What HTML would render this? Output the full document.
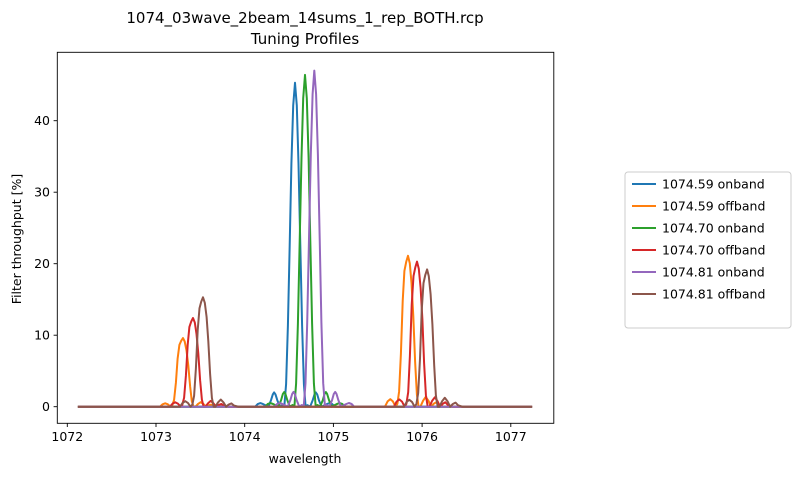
<!DOCTYPE html>
<html><head><meta charset="utf-8"><style>
body{margin:0;background:#fff;font-family:"Liberation Sans","DejaVu Sans",sans-serif}
svg text{font-family:"DejaVu Sans","Liberation Sans",sans-serif;font-size:12.5px;fill:#000}
svg text.title{font-size:15px}
</style></head><body>
<svg id="chart" width="799" height="476" viewBox="0 0 799 476" xmlns="http://www.w3.org/2000/svg">
<rect width="799" height="476" fill="#fff"/>
<text class="title" x="305" y="23" text-anchor="middle">1074_03wave_2beam_14sums_1_rep_BOTH.rcp</text>
<text class="title" x="305" y="44" text-anchor="middle">Tuning Profiles</text>
<g id="plot"></g>
<rect x="57.3" y="52.3" width="496.5" height="371" fill="none" stroke="#000" stroke-width="0.9"/>
<g id="axes"></g>
<text x="305" y="463" text-anchor="middle">wavelength</text>
<text transform="translate(21,239) rotate(-90)" text-anchor="middle">Filter throughput [%]</text>
<g id="legend"></g>
</svg>
<script>
const xTicks=[1072,1073,1074,1075,1076,1077];
const yTicks=[0,10,20,30,40];
const seriesLabels=["1074.59 onband","1074.59 offband","1074.70 onband","1074.70 offband","1074.81 onband","1074.81 offband"];
const seriesColors=["#1f77b4","#ff7f0e","#2ca02c","#d62728","#9467bd","#8c564b"];
const seriesKinds=["on","off","on","off","on","off"];
const onCenters=[1074.567,1074.680,1074.785];
const onPeaks=[45.3,46.4,47.0];
const offCentersLow=[1073.304,1073.417,1073.530];
const offPeaksLow=[9.6,12.4,15.3];
const offCentersHigh=[1075.841,1075.943,1076.056];
const offPeaksHigh=[21.1,20.3,19.2];
const onOffsets=[-0.5,-0.45,-0.42,-0.39,-0.36,-0.3,-0.27,-0.25,-0.235,-0.22,-0.2,-0.17,-0.14,-0.12,-0.1,-0.08,-0.06,-0.04,-0.02,0,0.02,0.04,0.06,0.08,0.1,0.12,0.14,0.17,0.2,0.22,0.235,0.25,0.27,0.3,0.36,0.39,0.42,0.45,0.5];
const onShape=[0,0,0.008,0.011,0.008,0,0.02,0.038,0.044,0.038,0.02,0,0.005,0,0.07,0.25,0.5,0.75,0.93,1,0.93,0.75,0.5,0.25,0.07,0,0.005,0,0.02,0.038,0.044,0.038,0.02,0,0.008,0.011,0.008,0,0];
const offOffsets=[-0.4,-0.26,-0.23,-0.2,-0.17,-0.14,-0.12,-0.1,-0.08,-0.06,-0.04,-0.02,0,0.02,0.04,0.06,0.08,0.1,0.12,0.14,0.17,0.2,0.23,0.26,0.29,0.32,0.35,0.4];
const offShape=[0,0,0.035,0.05,0.035,0,0.02,0.1,0.35,0.7,0.9,0.96,1,0.95,0.82,0.6,0.3,0.08,0,0,0.04,0.065,0.04,0,0.02,0.03,0.01,0];
const xMin=1072.12,xMax=1077.24;
const X=w=>67.3+(w-1072)*88.7;
const Y=v=>406.7-v*7.15;
const NS="http://www.w3.org/2000/svg";
function mk(t,a){const e=document.createElementNS(NS,t);for(const k in a)e.setAttribute(k,a[k]);return e;}
const plot=document.getElementById('plot'),axes=document.getElementById('axes'),leg=document.getElementById('legend');
xTicks.forEach(t=>{const x=X(t);
 const l=mk('line',{x1:x,x2:x,y1:423.3,y2:427,stroke:'#000','stroke-width':0.9});
 
 axes.appendChild(l);
 const s=mk('text',{x:x,y:441,'text-anchor':'middle'});s.textContent=t;
 
 axes.appendChild(s);});
yTicks.forEach(t=>{const y=Y(t);
 const l=mk('line',{x1:53.6,x2:57.3,y1:y,y2:y,stroke:'#000','stroke-width':0.9});
 
 axes.appendChild(l);
 const s=mk('text',{x:50,y:y+4.5,'text-anchor':'end'});s.textContent=t;
 
 axes.appendChild(s);});
let onI=0,offI=0;
seriesLabels.forEach((lab,i)=>{
 let pts=[[xMin,0]];
 if(seriesKinds[i]==='on'){const c=onCenters[onI],p=onPeaks[onI];onI++;
  onOffsets.forEach((o,k)=>pts.push([c+o,onShape[k]*p]));}
 else{[[offCentersLow[offI],offPeaksLow[offI]],[offCentersHigh[offI],offPeaksHigh[offI]]].forEach(([c,p])=>{
  offOffsets.forEach((o,k)=>pts.push([c+o,offShape[k]*p]));});offI++;}
 pts.push([xMax,0]);pts.sort((a,b)=>a[0]-b[0]);
 const d=pts.map((q,k)=>(k?'L':'M')+X(q[0]).toFixed(1)+','+Y(q[1]).toFixed(1)).join('');
 const path=mk('path',{d:d,fill:'none',stroke:seriesColors[i],'stroke-width':2,'stroke-linejoin':'round'});
 
 plot.appendChild(path);
});
const box=mk('rect',{x:625,y:172,width:166,height:156,rx:3,fill:'#fff',stroke:'#ccc'});

leg.appendChild(box);
seriesLabels.forEach((lab,i)=>{const y=184+i*22;
 const g=mk('g',{});
 
 
 g.appendChild(mk('line',{x1:632,x2:656,y1:y,y2:y,stroke:seriesColors[i],'stroke-width':2}));
 const t=mk('text',{x:662,y:y+4.5});t.textContent=lab;g.appendChild(t);leg.appendChild(g);});
</script>
</body></html>
